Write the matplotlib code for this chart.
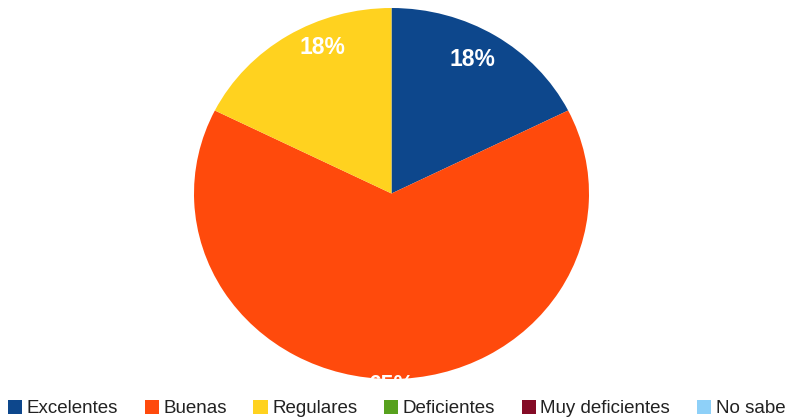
import numpy as np
import matplotlib.pyplot as plt
from matplotlib.patches import Patch, Rectangle

plt.rcParams['font.family'] = ['Liberation Sans', 'DejaVu Sans']

categories = ['Excelentes', 'Buenas', 'Regulares', 'Deficientes', 'Muy deficientes', 'No sabe']
values = [17.6, 64.7, 17.6, 0, 0, 0]
colors = ['#0d478c', '#ff4a0c', '#ffd21f', '#57a11e', '#840b26', '#8ed0f8']

# label placement (distance from centre, angle tweak in degrees)
label_r = [0.83, 1.035, 0.86]
label_shift = [-2, 0, 7.8]

W, H = 793, 419
fig = plt.figure(figsize=(W / 100, H / 100), dpi=100)
ax = fig.add_axes([0, 0, 1, 1])

# pie is a bit squashed in the original, so no equal aspect
cx, cy, rx, ry = 391.5, 225.5, 197.5, 185.5
shown = [(v, c) for v, c in zip(values, colors) if v > 0]
wedges, texts, autotexts = ax.pie([v for v, c in shown], colors=[c for v, c in shown],
                                  startangle=90, counterclock=False, autopct='%1.0f%%',
                                  pctdistance=0.84,
                                  textprops=dict(color='white', fontsize=16.5, fontweight='bold'))
ax.set_aspect('auto')
ax.set_xlim(-cx / rx, (W - cx) / rx)
ax.set_ylim(-cy / ry, (H - cy) / ry)
ax.axis('off')

for w, t, r, s in zip(wedges, autotexts, label_r, label_shift):
    a = np.radians(90 - (w.theta1 + w.theta2) / 2 + s)
    t.set_position((r * np.sin(a), r * np.cos(a)))
    t.set_ha('center')
    t.set_va('center')

# white band under the legend hides the bottom of the 65% label
fig.patches.append(Rectangle((0, 0), 1, 38 / H, transform=fig.transFigure,
                             facecolor='white', edgecolor='none', zorder=4))

handles = [Patch(facecolor=c, edgecolor='none') for c in colors]
fig.legend(handles, categories, loc='lower center', bbox_to_anchor=(0.5, -0.023), ncol=6,
           frameon=False, fontsize=13.5, handlelength=0.75, handleheight=0.75,
           handletextpad=0.25, columnspacing=1.42, borderaxespad=0.2, labelcolor='#222222')

fig.savefig('out.png', dpi=100)
